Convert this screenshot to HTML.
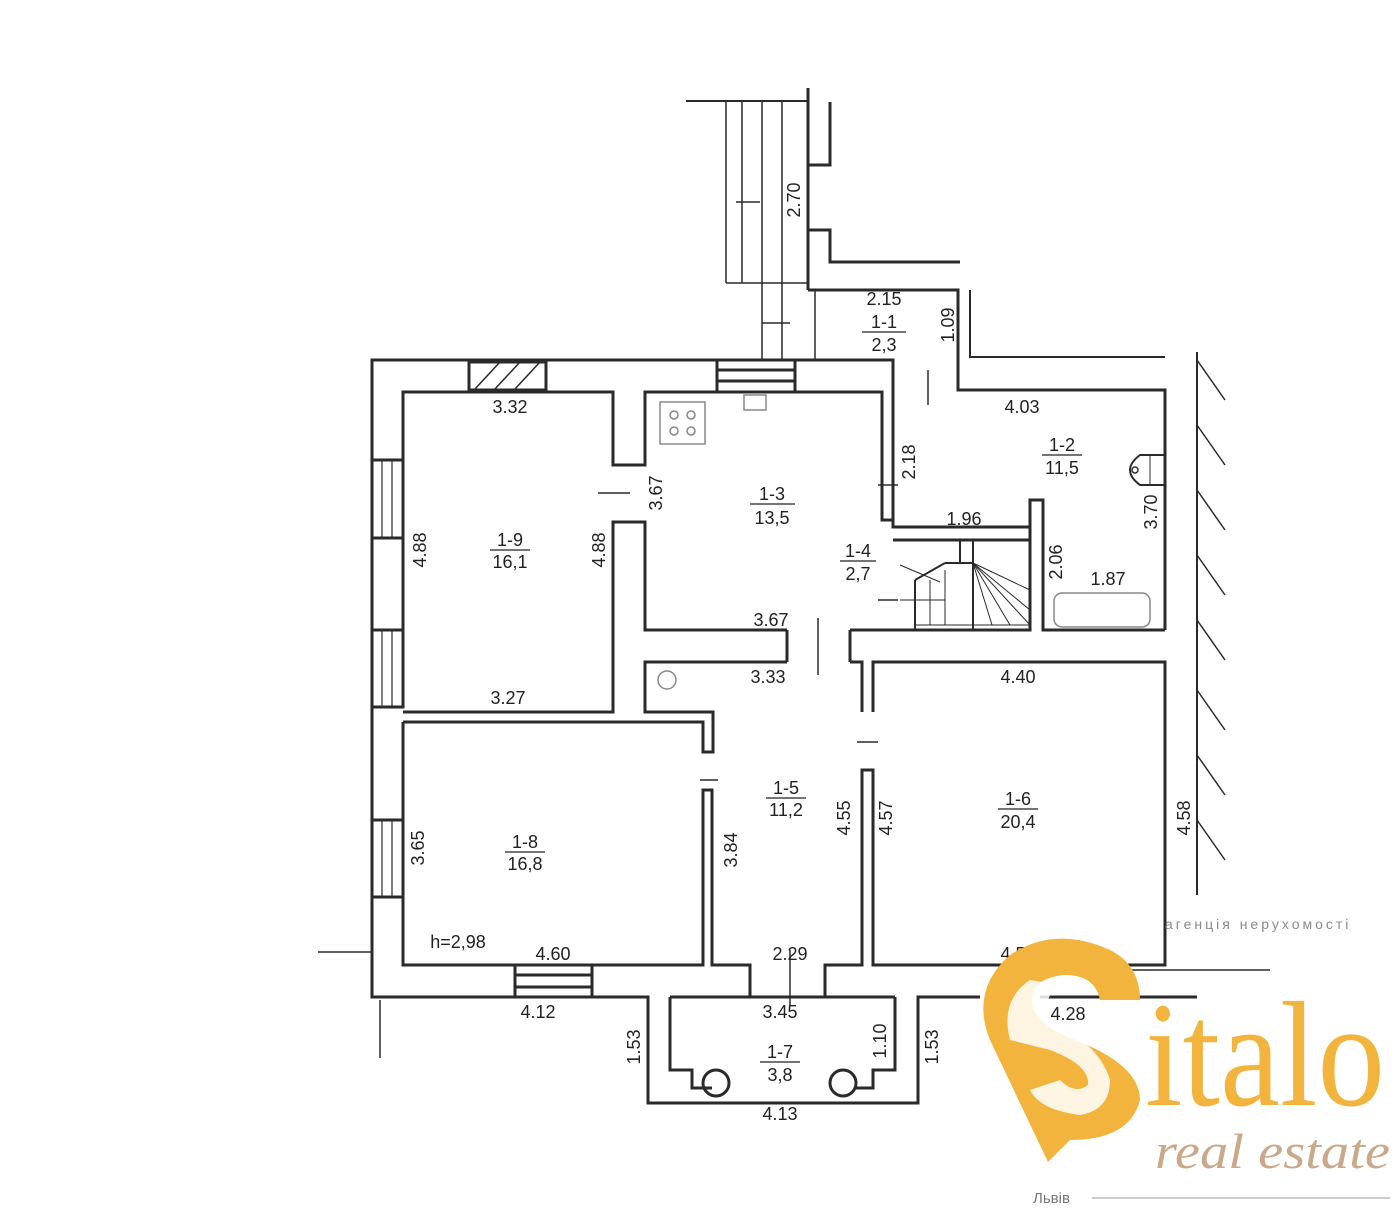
<!DOCTYPE html>
<html><head><meta charset="utf-8"><style>
html,body{margin:0;padding:0;background:#fff}
svg{display:block}
text{font-family:"Liberation Sans",sans-serif;fill:#222}
</style></head><body>
<svg width="1400" height="1216" viewBox="0 0 1400 1216" xmlns="http://www.w3.org/2000/svg">
<rect width="1400" height="1216" fill="#fff"/>
<g fill="none" stroke="#2a2a2a" stroke-width="3">
<!-- outside stairs -->
<polyline points="686,101 808,101 808,88" stroke-width="2"/>
<line x1="808" y1="88" x2="808" y2="290"/>
<g stroke-width="1.5"><line x1="726" y1="101" x2="726" y2="283"/><line x1="742" y1="101" x2="742" y2="283"/><line x1="762" y1="101" x2="762" y2="360"/><line x1="782" y1="101" x2="782" y2="360"/><line x1="726" y1="283" x2="808" y2="283"/><line x1="815" y1="290" x2="815" y2="360"/><line x1="736" y1="202" x2="760" y2="202"/><line x1="762" y1="323" x2="790" y2="323"/></g>
<polyline points="830,102 830,165 808,165"/>
<polyline points="808,230 830,230 830,262 960,262"/>
<polyline points="970,290 970,357 1165,357" stroke-width="2"/>
<!-- vestibule -->
<polyline points="808,290 958,290 958,390 1165,390 1165,630"/>
<!-- outer walls -->
<polyline points="795,360 893,360 893,520 882,520 882,392 795,392"/>
<polyline points="717,360 372,360 372,460 403,460 403,392 613,392 613,465 645,465 645,392 717,392"/>
<line x1="717" y1="360" x2="795" y2="360"/><line x1="717" y1="370" x2="795" y2="370"/><line x1="717" y1="381" x2="795" y2="381"/><line x1="717" y1="392" x2="795" y2="392"/>
<line x1="717" y1="360" x2="717" y2="392"/><line x1="795" y1="360" x2="795" y2="392"/>
<rect x="469" y="362" width="77" height="28"/>
<g stroke-width="1.5"><line x1="474" y1="390" x2="500" y2="362"/><line x1="494" y1="390" x2="520" y2="362"/><line x1="514" y1="390" x2="540" y2="362"/></g>
<!-- left windows -->
<polyline points="372,460 372,538 403,538 403,460"/>
<polyline points="372,538 372,630 403,630 403,538"/>
<polyline points="372,630 372,707 403,707 403,630"/>
<polyline points="372,707 372,820 403,820 403,722"/>
<polyline points="372,820 372,897 403,897 403,820"/>
<polyline points="372,897 372,997 515,997"/>
<g stroke-width="1.2"><line x1="382" y1="460" x2="382" y2="538"/><line x1="392" y1="460" x2="392" y2="538"/><line x1="382" y1="630" x2="382" y2="707"/><line x1="392" y1="630" x2="392" y2="707"/><line x1="382" y1="820" x2="382" y2="897"/><line x1="392" y1="820" x2="392" y2="897"/></g>
<!-- 1-9 bottom / 1-8 -->
<polyline points="403,712 613,712 613,522 645,522 645,630 787,630"/>
<polyline points="403,722 703,722 703,752 713,752 713,712 645,712 645,662 787,662"/>
<polyline points="850,630 1030,630 1030,500 1043,500 1043,630 1165,630"/>
<polyline points="893,520 893,527 1030,527"/>
<polyline points="850,662 862,662 862,712"/>
<line x1="893" y1="540" x2="1030" y2="540"/>
<line x1="787" y1="630" x2="787" y2="662"/><line x1="850" y1="630" x2="850" y2="662"/>
<polyline points="873,712 873,662 1165,662 1165,965 873,965 873,770 862,770 862,965 825,965 825,997 750,997 750,965 712,965 712,790 703,790 703,965 592,965"/>
<polyline points="403,722 403,965 515,965"/>
<line x1="515" y1="965" x2="592" y2="965"/><line x1="515" y1="975" x2="592" y2="975"/><line x1="515" y1="987" x2="592" y2="987"/><line x1="515" y1="997" x2="592" y2="997"/>
<line x1="515" y1="965" x2="515" y2="997"/><line x1="592" y1="965" x2="592" y2="997"/>
<polyline points="592,997 648,997 648,1103 918,1103 918,997 980,997"/>
<polyline points="670,997 670,1070 692,1070 692,1088 712,1088"/>
<polyline points="895,997 895,1070 873,1070 873,1088 855,1088"/>
<line x1="670" y1="997" x2="750" y2="997"/><line x1="825" y1="997" x2="895" y2="997"/>
<line x1="1040" y1="997" x2="1197" y2="997"/>
<line x1="1197" y1="352" x2="1197" y2="895" stroke-width="2"/>
<g stroke-width="1.5"><line x1="1197" y1="360" x2="1225" y2="400"/><line x1="1197" y1="425" x2="1225" y2="465"/><line x1="1197" y1="490" x2="1225" y2="530"/><line x1="1197" y1="555" x2="1225" y2="595"/><line x1="1197" y1="620" x2="1225" y2="660"/><line x1="1197" y1="690" x2="1225" y2="730"/><line x1="1197" y1="755" x2="1225" y2="795"/><line x1="1197" y1="820" x2="1225" y2="860"/></g>
<circle cx="716" cy="1083" r="13"/><circle cx="843" cy="1083" r="13"/>
<!-- stairs 1-4 -->
<g stroke-width="2"><line x1="960" y1="540" x2="960" y2="563"/><line x1="973" y1="540" x2="973" y2="630"/><line x1="915" y1="580" x2="915" y2="630"/><line x1="915" y1="580" x2="945" y2="563"/><line x1="945" y1="563" x2="973" y2="563"/></g>
<g stroke-width="1"><line x1="930" y1="580" x2="930" y2="625"/><line x1="945" y1="570" x2="945" y2="625"/><line x1="915" y1="625" x2="1030" y2="625"/><line x1="973" y1="563" x2="1030" y2="625"/><line x1="973" y1="563" x2="1010" y2="625"/><line x1="973" y1="563" x2="992" y2="625"/><line x1="973" y1="563" x2="1030" y2="590"/><line x1="973" y1="563" x2="1030" y2="610"/><line x1="900" y1="565" x2="940" y2="582"/><line x1="900" y1="600" x2="945" y2="600"/></g>
<!-- fixtures -->
<g stroke="#888" stroke-width="1.5"><rect x="660" y="402" width="45" height="42"/><circle cx="674" cy="415" r="4"/><circle cx="691" cy="415" r="4"/><circle cx="674" cy="431" r="4"/><circle cx="691" cy="431" r="4"/><rect x="744" y="395" width="22" height="15"/><rect x="1054" y="593" width="96" height="34" rx="8"/><circle cx="667" cy="680" r="9"/></g>
<path d="M1165,455 L1140,455 Q1120,470 1140,485 L1165,485" stroke-width="2"/>
<line x1="1150" y1="455" x2="1150" y2="485" stroke-width="1"/>
<circle cx="1135" cy="470" r="3" stroke-width="1.5"/>
<g stroke-width="1.5"><line x1="598" y1="493" x2="630" y2="493"/><line x1="878" y1="485" x2="898" y2="485"/><line x1="878" y1="600" x2="898" y2="600"/><line x1="928" y1="370" x2="928" y2="405"/><line x1="818" y1="618" x2="818" y2="675"/><line x1="857" y1="742" x2="878" y2="742"/><line x1="700" y1="780" x2="718" y2="780"/><line x1="790" y1="950" x2="790" y2="1005"/><line x1="318" y1="952" x2="372" y2="952"/><line x1="380" y1="1000" x2="380" y2="1058"/><line x1="1040" y1="970" x2="1270" y2="970"/></g>
</g>
<g font-size="18" text-anchor="middle">
<text x="510" y="413">3.32</text><text x="508" y="704">3.27</text>
<text x="510" y="546">1-9</text><text x="510" y="568">16,1</text>
<text x="772" y="500">1-3</text><text x="772" y="524">13,5</text>
<text x="771" y="626">3.67</text>
<text x="858" y="557">1-4</text><text x="858" y="580">2,7</text>
<text x="884" y="305">2.15</text><text x="884" y="328">1-1</text><text x="884" y="351">2,3</text>
<text x="1022" y="413">4.03</text>
<text x="1062" y="451">1-2</text><text x="1062" y="474">11,5</text>
<text x="964" y="525">1.96</text><text x="1108" y="585">1.87</text>
<text x="768" y="683">3.33</text><text x="1018" y="683">4.40</text>
<text x="786" y="794">1-5</text><text x="786" y="816">11,2</text>
<text x="1018" y="805">1-6</text><text x="1018" y="828">20,4</text>
<text x="525" y="848">1-8</text><text x="525" y="870">16,8</text>
<text x="458" y="948">h=2,98</text><text x="553" y="960">4.60</text>
<text x="790" y="960">2.29</text><text x="1018" y="960">4.50</text>
<text x="538" y="1018">4.12</text><text x="780" y="1018">3.45</text><text x="1068" y="1020" fill="#bbb">4.28</text>
<text x="780" y="1058">1-7</text><text x="780" y="1081">3,8</text>
<text x="780" y="1120">4.13</text>
</g>
<g stroke="#222" stroke-width="1.3">
<line x1="490" y1="550" x2="530" y2="550"/><line x1="750" y1="504" x2="795" y2="504"/><line x1="840" y1="561" x2="876" y2="561"/><line x1="862" y1="332" x2="906" y2="332"/><line x1="1042" y1="455" x2="1082" y2="455"/><line x1="766" y1="798" x2="806" y2="798"/><line x1="998" y1="809" x2="1038" y2="809"/><line x1="505" y1="852" x2="545" y2="852"/><line x1="760" y1="1062" x2="800" y2="1062"/>
</g>
<g font-size="18" text-anchor="middle">
<text transform="translate(426,550) rotate(-90)">4.88</text>
<text transform="translate(605,550) rotate(-90)">4.88</text>
<text transform="translate(662,493) rotate(-90)">3.67</text>
<text transform="translate(800,200) rotate(-90)">2.70</text>
<text transform="translate(954,325) rotate(-90)">1.09</text>
<text transform="translate(915,462) rotate(-90)">2.18</text>
<text transform="translate(1062,562) rotate(-90)">2.06</text>
<text transform="translate(1157,512) rotate(-90)">3.70</text>
<text transform="translate(424,848) rotate(-90)">3.65</text>
<text transform="translate(737,850) rotate(-90)">3.84</text>
<text transform="translate(850,818) rotate(-90)">4.55</text>
<text transform="translate(892,818) rotate(-90)">4.57</text>
<text transform="translate(1190,818) rotate(-90)">4.58</text>
<text transform="translate(640,1047) rotate(-90)">1.53</text>
<text transform="translate(886,1041) rotate(-90)">1.10</text>
<text transform="translate(938,1047) rotate(-90)">1.53</text>
</g>
<!-- logo -->
<text x="1165" y="929" font-size="14" letter-spacing="3" fill="#888" style="fill:#8a8a8a">агенція нерухомості</text>
<path d="M1048,1162 L990,1040 Q970,990 1010,955 Q1055,925 1110,950 Q1140,965 1140,1000 L1100,1000 Q1095,975 1065,975 Q1030,978 1032,1003 Q1036,1025 1075,1040 Q1140,1065 1140,1100 Q1130,1140 1070,1140 Z" fill="#f3b43e"/>
<path d="M1010,1040 Q1000,1000 1030,980 L1060,985 Q1040,1000 1050,1020 Q1100,1045 1110,1080 Q1110,1110 1080,1115 Q1040,1110 1030,1090 L1060,1080 Q1075,1095 1088,1085 Q1090,1065 1050,1050 Z" fill="#fff" opacity="0.85"/>
<text x="1145" y="1105" font-family="Liberation Serif" font-size="150" textLength="240" lengthAdjust="spacingAndGlyphs" style="fill:#f3b43e;font-family:'Liberation Serif',serif">italo</text>
<text x="1155" y="1168" font-family="Liberation Serif" font-size="50" font-style="italic" textLength="235" lengthAdjust="spacingAndGlyphs" style="fill:#c9a98a;font-family:'Liberation Serif',serif;font-style:italic">real estate</text>
<text x="1033" y="1203" font-size="15" style="fill:#777">Львів</text>
<line x1="1092" y1="1198" x2="1390" y2="1198" stroke="#999" stroke-width="1"/>
</svg>
</body></html>
